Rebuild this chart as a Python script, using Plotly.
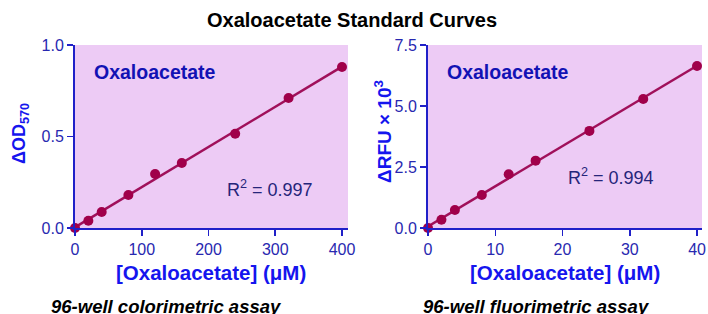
import numpy as np
import plotly.graph_objects as go

# Data
conc_color = [0, 20, 40, 80, 120, 160, 240, 320, 400]
od570 = [0.0, 0.04, 0.087, 0.18, 0.295, 0.355, 0.515, 0.71, 0.88]
conc_fluor = [0, 2, 4, 8, 12, 16, 24, 32, 40]
rfu = [0.0, 0.34, 0.74, 1.35, 2.2, 2.76, 3.98, 5.29, 6.64]
r2_color = "0.997"
r2_fluor = "0.994"
left_xticks = [0, 100, 200, 300, 400]
right_xticks = [0, 10, 20, 30, 40]
left_yticks = [0, 0.5, 1.0]
left_ylabels = ["0.0", "0.5", "1.0"]
right_yticks = [0, 2.5, 5.0, 7.5]
right_ylabels = ["0.0", "2.5", "5.0", "7.5"]

W, H = 708, 314
def px(x): return x / W
def py(y): return 1 - y / H

BG = "#EDCBF5"
MARK = "#A0004A"
LINE = "#A0105A"
AX = "#2020C8"
TICK = "#2828B0"
TITLEBLUE = "#1515EE"
FONT = "Liberation Sans, Arial, sans-serif"

fig = go.Figure()

def add_panel(xs, ys, xa, ya):
    k, b = np.polyfit(xs, ys, 1)
    lx = np.array([0, max(xs)])
    fig.add_trace(go.Scatter(x=lx, y=k * lx + b, mode="lines",
                             line=dict(color=LINE, width=2.5),
                             xaxis=xa, yaxis=ya, showlegend=False, cliponaxis=False))
    fig.add_trace(go.Scatter(x=xs, y=ys, mode="markers",
                             marker=dict(color=MARK, size=10),
                             xaxis=xa, yaxis=ya, showlegend=False, cliponaxis=False))

add_panel(conc_color, od570, "x", "y")
add_panel(conc_fluor, rfu, "x2", "y2")

common = dict(showgrid=False, zeroline=False, showline=True, linecolor=AX, linewidth=2,
              ticks="outside", ticklen=6, tickwidth=1.5, tickcolor=AX,
              tickfont=dict(family=FONT, size=16, color=TICK))

fig.update_layout(
    width=W, height=H,
    margin=dict(l=0, r=0, t=0, b=0, autoexpand=False),
    paper_bgcolor="white",
    plot_bgcolor=BG,
    font=dict(family=FONT),
    hovermode=False,
    xaxis=dict(domain=[px(75), px(348)], range=[0, 409], tickvals=left_xticks,
               anchor="y", **common),
    yaxis=dict(domain=[py(228), py(45)], range=[0, 1.0], tickvals=left_yticks,
               ticktext=left_ylabels, anchor="x", **common),
    xaxis2=dict(domain=[px(428), px(702)], range=[0, 40.74], tickvals=right_xticks,
                anchor="y2", **common),
    yaxis2=dict(domain=[py(228), py(45)], range=[0, 7.5], tickvals=right_yticks,
                ticktext=right_ylabels, anchor="x2", **common),
)

ann = []
def A(text, x, y, size, color, bold=False, italic=False, angle=0, xanchor="center"):
    t = text
    if bold:
        t = "<b>" + t + "</b>"
    if italic:
        t = "<i>" + t + "</i>"
    ann.append(dict(text=t, x=px(x), y=py(y), xref="paper", yref="paper",
                    showarrow=False, textangle=angle, xanchor=xanchor, yanchor="middle",
                    font=dict(family=FONT, size=size, color=color)))

A("Oxaloacetate Standard Curves", 352, 20, 20, "black", bold=True)
A("Oxaloacetate", 92, 72, 19.5, "#1212B4", bold=True, xanchor="left")
A("Oxaloacetate", 445, 72, 19.5, "#1212B4", bold=True, xanchor="left")
A("R<sup>2</sup> = " + r2_color, 225, 188, 18, "#25257A", xanchor="left")
A("R<sup>2</sup> = " + r2_fluor, 566, 176, 18, "#25257A", xanchor="left")
A("ΔOD<sub>570</sub>", 20, 134, 18, TITLEBLUE, bold=True, angle=-90)
A("ΔRFU × 10<sup>3</sup>", 383, 132, 19, TITLEBLUE, bold=True, angle=-90)
A("[Oxaloacetate] (μM)", 211, 272, 20.5, TITLEBLUE, bold=True)
A("[Oxaloacetate] (μM)", 565, 272, 20.5, TITLEBLUE, bold=True)
A("96-well colorimetric assay", 166, 306, 18.5, "black", bold=True, italic=True)
A("96-well fluorimetric assay", 536, 306, 18.5, "black", bold=True, italic=True)
fig.update_layout(annotations=ann)

fig.write_html("out.html",
               config={"displayModeBar": False, "staticPlot": True},
               post_script="document.body.style.margin='0';document.body.style.overflow='hidden';")
